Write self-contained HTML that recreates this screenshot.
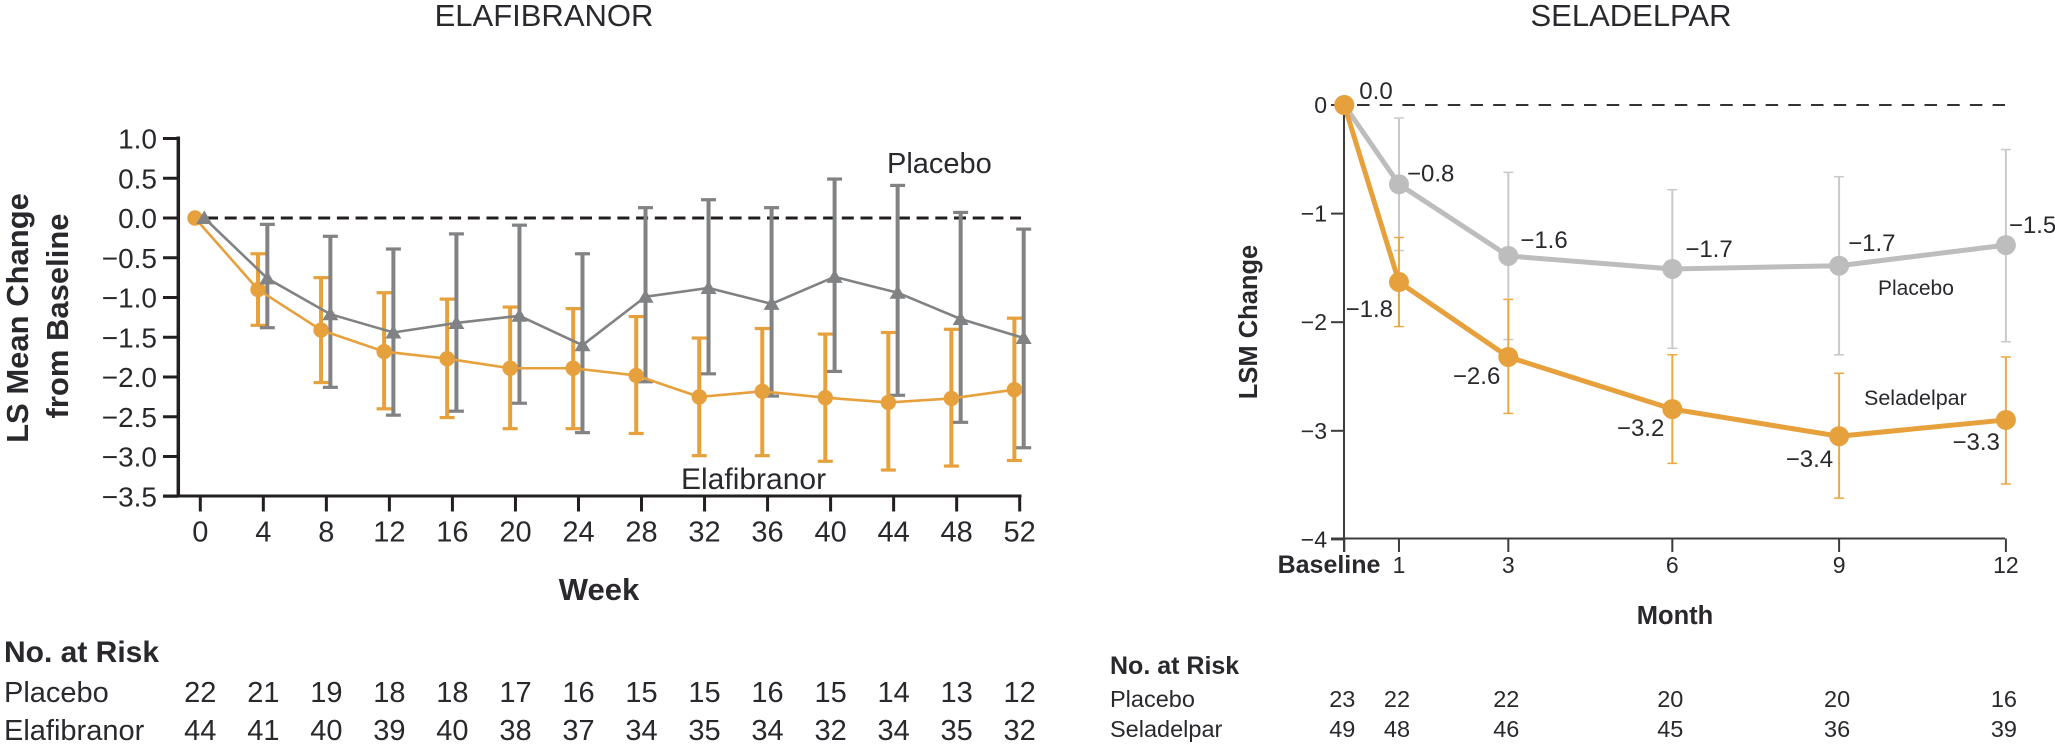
<!DOCTYPE html>
<html lang="en">
<head>
<meta charset="utf-8">
<title>Elafibranor and Seladelpar LS mean change from baseline</title>
<style>
html,body{margin:0;padding:0;background:#fff;width:2055px;height:745px;overflow:hidden}
svg{display:block;font-family:"Liberation Sans",sans-serif;fill:#2a282c}
text{fill:#2a282c}
.b{font-weight:bold}
</style>
</head>
<body>
<svg id="chart" width="2055" height="745" viewBox="0 0 2055 745" xmlns="http://www.w3.org/2000/svg">
  <text x="544" y="26" font-size="31" text-anchor="middle">ELAFIBRANOR</text>
  <text x="1631" y="26" font-size="31" text-anchor="middle">SELADELPAR</text>

  <text class="b" font-size="31" text-anchor="middle" transform="translate(28,318) rotate(-90)">LS Mean Change</text>
  <text class="b" font-size="31" text-anchor="middle" transform="translate(68,316) rotate(-90)">from Baseline</text>
  <text class="b" x="599" y="600" font-size="31" text-anchor="middle">Week</text>
  <text x="887" y="173" font-size="29">Placebo</text>
  <text x="681" y="489" font-size="30">Elafibranor</text>
  <text class="b" x="4" y="662" font-size="30">No. at Risk</text>
  <text x="4" y="702" font-size="29">Placebo</text>
  <text x="4" y="740" font-size="29">Elafibranor</text>

  <text class="b" font-size="25.5" text-anchor="middle" transform="translate(1257,322) rotate(-90)">LSM Change</text>
  <text class="b" x="1675" y="624" font-size="25.5" text-anchor="middle">Month</text>
  <text class="b" x="1329" y="573" font-size="25" text-anchor="middle">Baseline</text>
  <text x="1878" y="295" font-size="21">Placebo</text>
  <text x="1864" y="405" font-size="21.5">Seladelpar</text>
  <text class="b" x="1110" y="674" font-size="25">No. at Risk</text>
  <text x="1110" y="707" font-size="23.5">Placebo</text>
  <text x="1110" y="737" font-size="23.5">Seladelpar</text>
</svg>
<script>
// ---------- Elafibranor chart data ----------
var weeks = [0, 4, 8, 12, 16, 20, 24, 28, 32, 36, 40, 44, 48, 52];
var leftYTicks = [1.0, 0.5, 0.0, -0.5, -1.0, -1.5, -2.0, -2.5, -3.0, -3.5];
var leftPlaceboMean = [0, -0.76, -1.21, -1.44, -1.32, -1.23, -1.60, -0.99, -0.88, -1.08, -0.74, -0.94, -1.27, -1.51];
var leftPlaceboUpper = [null, -0.08, -0.23, -0.39, -0.20, -0.09, -0.45, 0.13, 0.23, 0.13, 0.49, 0.41, 0.07, -0.14];
var leftPlaceboLower = [null, -1.38, -2.13, -2.48, -2.43, -2.33, -2.70, -2.06, -1.96, -2.24, -1.93, -2.23, -2.57, -2.89];
var elafMean = [0, -0.90, -1.41, -1.68, -1.77, -1.89, -1.89, -1.98, -2.25, -2.18, -2.26, -2.32, -2.27, -2.16];
var elafUpper = [null, -0.45, -0.75, -0.94, -1.02, -1.12, -1.14, -1.24, -1.51, -1.39, -1.46, -1.44, -1.40, -1.26];
var elafLower = [null, -1.35, -2.07, -2.40, -2.51, -2.65, -2.65, -2.71, -2.99, -2.99, -3.06, -3.17, -3.12, -3.05];
var leftRiskPlacebo = [22, 21, 19, 18, 18, 17, 16, 15, 15, 16, 15, 14, 13, 12];
var leftRiskElaf = [44, 41, 40, 39, 40, 38, 37, 34, 35, 34, 32, 34, 35, 32];

// ---------- Seladelpar chart data ----------
var months = [0, 1, 3, 6, 9, 12];
var monthTickLabels = ['', '1', '3', '6', '9', '12'];
var rightYTicks = [0, -1, -2, -3, -4];
var rightPlaceboMean = [0, -0.73, -1.39, -1.51, -1.48, -1.29];
var rightPlaceboUpper = [null, -0.12, -0.62, -0.78, -0.66, -0.41];
var rightPlaceboLower = [null, -1.34, -2.16, -2.24, -2.30, -2.18];
var seladMean = [0, -1.63, -2.32, -2.80, -3.05, -2.90];
var seladUpper = [null, -1.22, -1.79, -2.30, -2.47, -2.32];
var seladLower = [null, -2.04, -2.84, -3.30, -3.62, -3.49];
var rightPlaceboPrinted = ['0.0', '\u22120.8', '\u22121.6', '\u22121.7', '\u22121.7', '\u22121.5'];
var seladPrinted = ['', '\u22121.8', '\u22122.6', '\u22123.2', '\u22123.4', '\u22123.3'];
var rightRiskPlacebo = [23, 22, 22, 20, 20, 16];
var rightRiskSelad = [49, 48, 46, 45, 36, 39];

var ORANGE = '#e6a03c';
var GRAY = '#808284';
var LIGHT = '#bdbdbd';
var INK = '#231f20';
var svg = document.getElementById('chart');
var NS = 'http://www.w3.org/2000/svg';

function add(tag, attrs, text) {
  var el = document.createElementNS(NS, tag);
  for (var k in attrs) { el.setAttribute(k, attrs[k]); }
  if (text !== undefined) { el.textContent = text; }
  svg.appendChild(el);
  return el;
}
function minus(s) { return String(s).replace('-', '\u2212'); }

// axis functions
function lx(w) { return 200.3 + (w / 4) * 63.03; }
function ly(v) { return 218 - 79.5 * v; }
function rx(m) { return m <= 6 ? 1344.3 + 54.67 * m : 1672.3 + 55.6 * (m - 6); }
function ry(v) { return 105 - 108.6 * v; }
var el;

// ---------- Left axes ----------
el = add('line', {x1: 178.3, y1: 136.5, x2: 178.3, y2: 497.5, stroke: INK, 'stroke-width': 3.5});


el = add('line', {x1: 163, y1: 496, x2: 1021.5, y2: 496, stroke: INK, 'stroke-width': 3});



leftYTicks.forEach(function (v) {
  var t = add('line', {x1: 163, y1: ly(v), x2: 178, y2: ly(v), stroke: INK, 'stroke-width': 3});
  
  
  var l = add('text', {x: 157, y: ly(v) + 10, 'font-size': 28, 'text-anchor': 'end'}, minus(v.toFixed(1)));
  
  
});
weeks.forEach(function (w, i) {
  var t = add('line', {x1: lx(w), y1: 496, x2: lx(w), y2: 511.5, stroke: INK, 'stroke-width': 3});
  
  
  var l = add('text', {x: lx(w), y: 541.5, 'font-size': 29, 'text-anchor': 'middle'}, String(w));
  
  
  var a = add('text', {x: lx(w), y: 702, 'font-size': 29, 'text-anchor': 'middle'}, String(leftRiskPlacebo[i]));
  
  
  var b = add('text', {x: lx(w), y: 740, 'font-size': 29, 'text-anchor': 'middle'}, String(leftRiskElaf[i]));
  
  
});
el = add('line', {x1: 206, y1: ly(0), x2: 1021, y2: ly(0), stroke: INK, 'stroke-width': 3, 'stroke-dasharray': '12 6.7'});



// ---------- Left series ----------
function leftErrors(lower, upper, color, dx, name) {
  weeks.forEach(function (w, i) {
    if (upper[i] === null) { return; }
    var x = lx(w) + dx;
    var s = add('line', {x1: x, y1: ly(upper[i]), x2: x, y2: ly(lower[i]), stroke: color, 'stroke-width': 4});
    
    
    var c1 = add('line', {x1: x - 7.5, y1: ly(upper[i]), x2: x + 7.5, y2: ly(upper[i]), stroke: color, 'stroke-width': 3.2});
    
    
    var c2 = add('line', {x1: x - 7.5, y1: ly(lower[i]), x2: x + 7.5, y2: ly(lower[i]), stroke: color, 'stroke-width': 3.2});
    
    
  });
}
function leftLine(vals, color, dx, name) {
  var pts = weeks.map(function (w, i) { return (lx(w) + dx) + ',' + ly(vals[i]); }).join(' ');
  var p = add('polyline', {points: pts, fill: 'none', stroke: color, 'stroke-width': 2.6});
  
  
}
leftErrors(elafLower, elafUpper, ORANGE, -5.3, 'elafibranor');
leftErrors(leftPlaceboLower, leftPlaceboUpper, GRAY, 4, 'left-placebo');
leftLine(elafMean, ORANGE, -5.3, 'elafibranor');
leftLine(leftPlaceboMean, GRAY, 4, 'left-placebo');
weeks.forEach(function (w, i) {
  var c = add('circle', {cx: lx(w) - 5.3, cy: ly(elafMean[i]), r: 7.7, fill: ORANGE});
  
  
});
weeks.forEach(function (w, i) {
  var x = lx(w) + 4, y = ly(leftPlaceboMean[i]);
  var t = add('polygon', {points: (x - 8) + ',' + (y + 6) + ' ' + (x + 8) + ',' + (y + 6) + ' ' + x + ',' + (y - 7.5), fill: GRAY});
  
  
});

// ---------- Right axes ----------
el = add('line', {x1: 1344, y1: 105, x2: 1344, y2: 552, stroke: '#3c3c3e', 'stroke-width': 2});


el = add('line', {x1: 1331, y1: 538.5, x2: 2005, y2: 538.5, stroke: '#3c3c3e', 'stroke-width': 2});


el = add('line', {x1: 1357, y1: ry(0), x2: 2005, y2: ry(0), stroke: '#333', 'stroke-width': 2, 'stroke-dasharray': '12.5 10.2'});



rightYTicks.forEach(function (v) {
  var t = add('line', {x1: 1331, y1: ry(v), x2: 1344, y2: ry(v), stroke: '#3c3c3e', 'stroke-width': 2});
  
  
  var l = add('text', {x: 1327, y: ry(v) + 8, 'font-size': 23, 'text-anchor': 'end'}, minus(v));
  
  
});
months.forEach(function (m, i) {
  var t = add('line', {x1: rx(m), y1: 538.5, x2: rx(m), y2: 552, stroke: '#3c3c3e', 'stroke-width': 2});
  
  
  var l = add('text', {x: rx(m), y: 573, 'font-size': 23, 'text-anchor': 'middle'}, monthTickLabels[i]);
  
  
  var a = add('text', {x: rx(m) - 2, y: 707, 'font-size': 23.5, 'text-anchor': 'middle'}, String(rightRiskPlacebo[i]));
  
  
  var b = add('text', {x: rx(m) - 2, y: 737, 'font-size': 23.5, 'text-anchor': 'middle'}, String(rightRiskSelad[i]));
  
  
});

// ---------- Right series ----------
function rightErrors(lower, upper, color, name) {
  months.forEach(function (m, i) {
    if (upper[i] === null) { return; }
    var x = rx(m);
    var s = add('line', {x1: x, y1: ry(upper[i]), x2: x, y2: ry(lower[i]), stroke: color, 'stroke-width': 2});
    
    
    var c1 = add('line', {x1: x - 5, y1: ry(upper[i]), x2: x + 5, y2: ry(upper[i]), stroke: color, 'stroke-width': 1.5});
    
    
    var c2 = add('line', {x1: x - 5, y1: ry(lower[i]), x2: x + 5, y2: ry(lower[i]), stroke: color, 'stroke-width': 1.5});
    
    
  });
}
function rightSeries(vals, color, name) {
  var pts = months.map(function (m, i) { return rx(m) + ',' + ry(vals[i]); }).join(' ');
  var p = add('polyline', {points: pts, fill: 'none', stroke: color, 'stroke-width': 5});
  
  
  months.forEach(function (m, i) {
    var c = add('circle', {cx: rx(m), cy: ry(vals[i]), r: 10, fill: color});
    
    
  });
}
rightErrors(rightPlaceboLower, rightPlaceboUpper, '#c9c9c9', 'right-placebo');
rightErrors(seladLower, seladUpper, '#eba945', 'seladelpar');
rightSeries(rightPlaceboMean, LIGHT, 'right-placebo');
rightSeries(seladMean, ORANGE, 'seladelpar');

// printed value labels, placed relative to their marks
function placeboLabel(i, dx, dy) {
  var t = add('text', {x: rx(months[i]) + dx, y: ry(rightPlaceboMean[i]) + dy, 'font-size': 24}, rightPlaceboPrinted[i]);
  
  
}
function seladLabel(i, dx, dy) {
  var t = add('text', {x: rx(months[i]) + dx, y: ry(seladMean[i]) + dy, 'font-size': 24, 'text-anchor': 'end'}, seladPrinted[i]);
  
  
}
placeboLabel(0, 15, -6);
placeboLabel(1, 8, -3);
placeboLabel(2, 12, -8);
placeboLabel(3, 13, -12);
placeboLabel(4, 9, -14.5);
placeboLabel(5, 3, -12);
seladLabel(1, -6, 35);
seladLabel(2, -8, 27);
seladLabel(3, -8, 27);
seladLabel(4, -6, 31);
seladLabel(5, -6, 30);
</script>
</body>
</html>
